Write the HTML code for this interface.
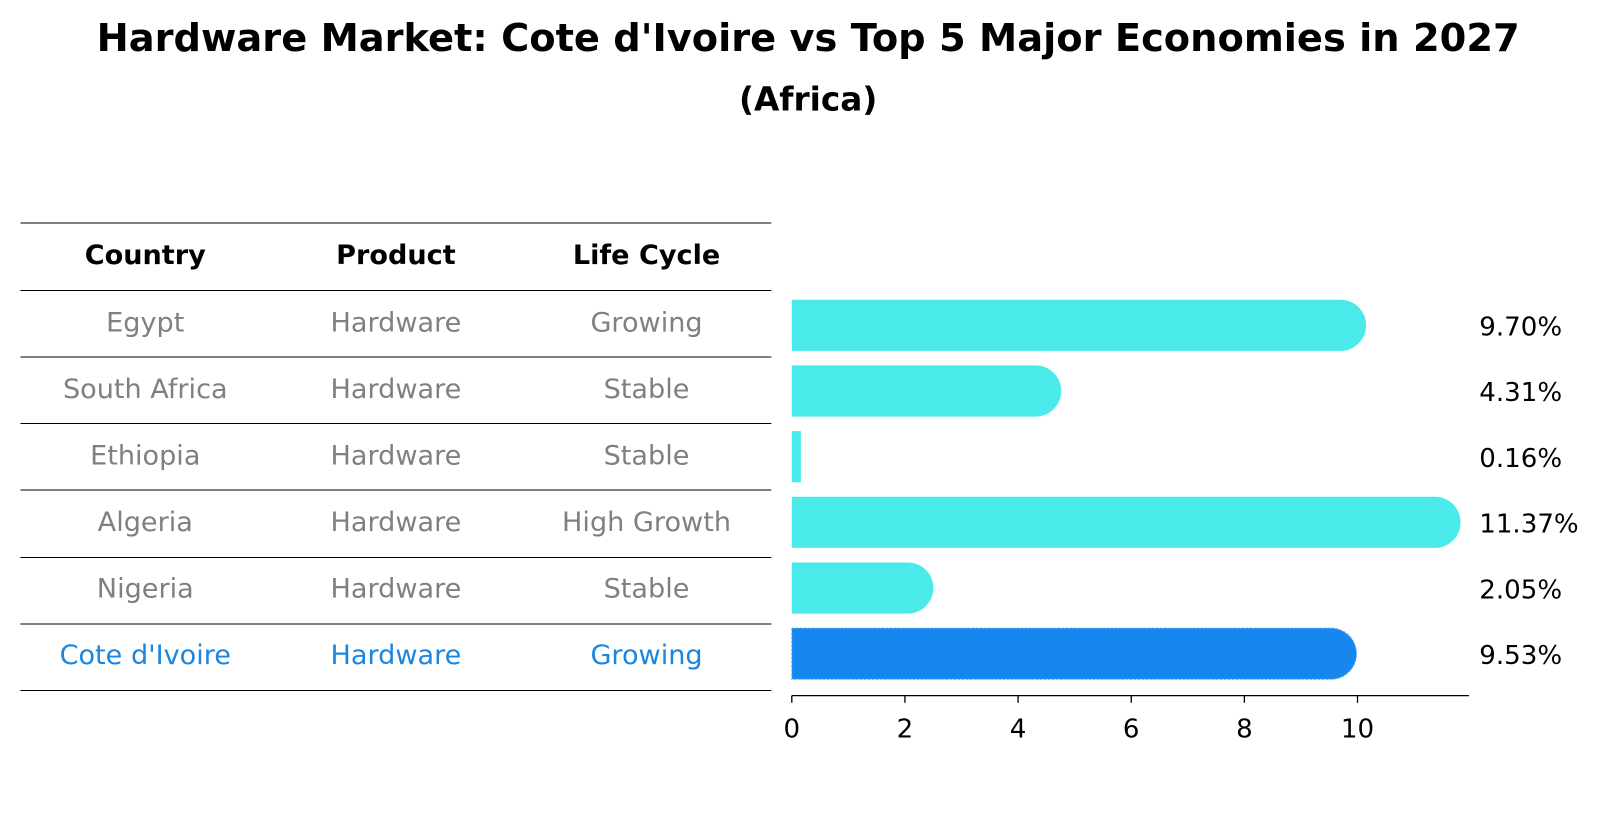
<!DOCTYPE html>
<html><head><meta charset="utf-8"><style>
body{margin:0;background:#fff;}
svg text{font-family:"DejaVu Sans","Liberation Sans",sans-serif;}
</style></head><body>
<svg id="chart" width="1604" height="823" xmlns="http://www.w3.org/2000/svg">
<g id="root" transform="scale(1.023)">
<text x="790" y="50" text-anchor="middle" font-size="37.5" font-weight="bold">Hardware Market: Cote d'Ivoire vs Top 5 Major Economies in 2027</text>
<text x="790" y="108" text-anchor="middle" font-size="32" font-weight="bold">(Africa)</text>
<g id="table"></g>
<g id="bars"></g>
</g>
</svg>
<script>
const countries=["Egypt","South Africa","Ethiopia","Algeria","Nigeria","Cote d'Ivoire"];
const products=["Hardware","Hardware","Hardware","Hardware","Hardware","Hardware"];
const lifeCycles=["Growing","Stable","Stable","High Growth","Stable","Growing"];
const values=[9.70,4.31,0.16,11.37,2.05,9.53];
const valueLabels=["9.70%","4.31%","0.16%","11.37%","2.05%","9.53%"];
const xTicks=[0,2,4,6,8,10];

const NS="http://www.w3.org/2000/svg";
function mk(tag,attrs,parent,text){const e=document.createElementNS(NS,tag);for(const k in attrs)e.setAttribute(k,attrs[k]);if(text!==undefined)e.textContent=text;parent.appendChild(e);return e;}
const tbl=document.getElementById('table');
const lineYs=[218,284,349,414,479,545,610,675];
lineYs.forEach((y,i)=>{const l=mk('line',{x1:20,x2:754,y1:y,y2:y,stroke:'#000','stroke-width':1},tbl);

});
const colX=[142,387,632];
["Country","Product","Life Cycle"].forEach((h,i)=>{const t=mk('text',{x:colX[i],y:258,'text-anchor':'middle','font-size':26.5,'font-weight':'bold'},tbl,h);

});
const rowY=i=>315+i*65;
countries.forEach((c,i)=>{const col=i===countries.length-1?'#1a86e0':'#808080';
[c,products[i],lifeCycles[i]].forEach((v,j)=>{const t=mk('text',{x:colX[j],y:rowY(i)+9,'text-anchor':'middle','font-size':26.5,fill:col},tbl,v);

});});

const g=document.getElementById('bars');
const x0=774,pxPer=55.3;
const xs=v=>x0+v*pxPer;
const barH=50;
values.forEach((v,i)=>{const cy=318+i*64.2;const hl=i===values.length-1;
const fill=hl?'#1787f0':'#4aeaea';
const w=xs(v)-x0;const r=barH/2;
let d;
if(w<r*1.2){d=`M${x0},${cy-r}h${w}v${barH}h${-w}z`;}
else{d=`M${x0},${cy-r}H${xs(v)}A${r},${r} 0 0 1 ${xs(v)},${cy+r}H${x0}z`;}
const p=mk('path',{d:d,fill:fill},g);
if(hl){p.setAttribute('stroke','#5aa8f5');p.setAttribute('stroke-dasharray','2,2');p.setAttribute('stroke-width','1');}


const t=mk('text',{x:1446,y:cy+10,'font-size':25.5},g,valueLabels[i]);

});
const ax=mk('line',{x1:x0,x2:1436,y1:680,y2:680,stroke:'#000','stroke-width':1.3},g);


xTicks.forEach(v=>{const tk=mk('line',{x1:xs(v),x2:xs(v),y1:680,y2:687,stroke:'#000','stroke-width':1.3},g);


const t=mk('text',{x:xs(v),y:721,'text-anchor':'middle','font-size':25.5},g,String(v));

});
</script>
</body></html>
